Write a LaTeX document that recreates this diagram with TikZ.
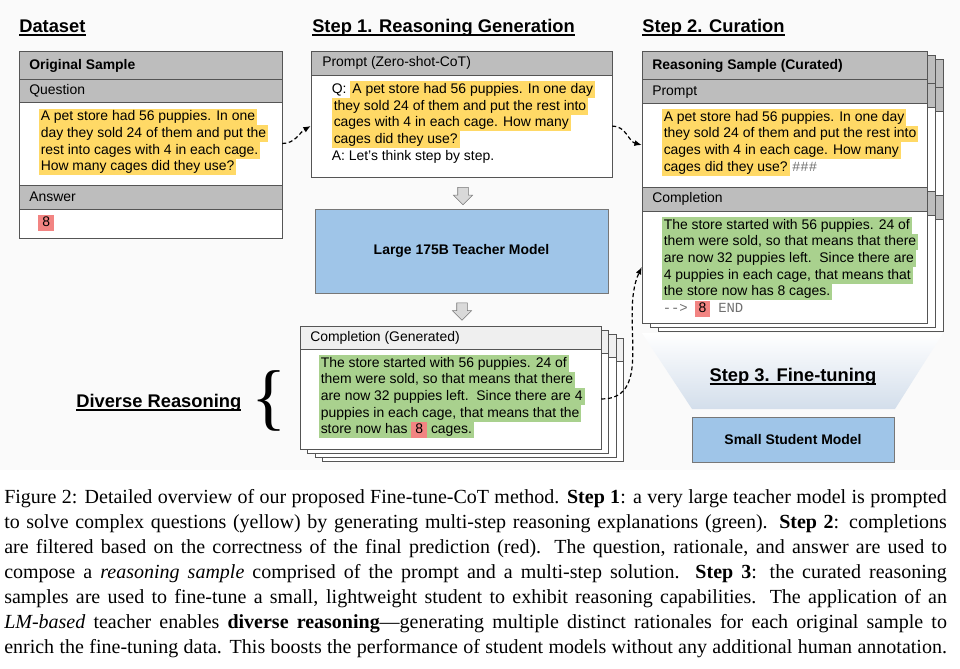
\documentclass[tikz,border=0pt]{standalone}
\usepackage{fontspec}
\setmainfont{Liberation Serif}
\setsansfont{Liberation Sans}
\setmonofont{Liberation Mono}
\usetikzlibrary{arrows.meta,shapes.arrows,fit}
\definecolor{qyel}{HTML}{FFD966}
\definecolor{rgreen}{HTML}{A9D18E}
\definecolor{ared}{HTML}{F28482}
\definecolor{hdrgray}{HTML}{BDBDBD}
\definecolor{hdrlight}{HTML}{EFEFEF}
\definecolor{edge}{HTML}{555555}
\definecolor{mblue}{HTML}{9FC5E8}
\definecolor{fadeblue}{HTML}{D3DEEB}
\definecolor{monogray}{HTML}{707070}
\newcommand{\hly}[1]{{\setlength{\fboxsep}{0pt}\colorbox{qyel}{\rule[-3.4pt]{0pt}{12.5pt}\hspace{1.5pt}#1\hspace{1.5pt}}}}
\newcommand{\hlg}[1]{{\setlength{\fboxsep}{0pt}\colorbox{rgreen}{\rule[-3.4pt]{0pt}{12.5pt}\hspace{1.5pt}#1\hspace{1.5pt}}}}
\newcommand{\hlr}[1]{{\setlength{\fboxsep}{0pt}\colorbox{ared}{\rule[-3pt]{0pt}{11.8pt}\hspace{3pt}#1\hspace{3pt}}}}
\newcommand{\mono}[1]{\texttt{\color{monogray}#1}}
\newcommand{\ulin}[1]{\setbox0\hbox{#1}\rlap{\rule[-2.2pt]{\wd0}{1pt}}\box0}

\begin{document}
\begin{tikzpicture}[x=0.75pt,y=-0.75pt,
    every node/.style={font=\sffamily\fontsize{10.45}{12.5}\selectfont},
    frame/.style={draw=edge,line width=0.75pt},
    band/.style={frame,fill=hdrgray},
    heading/.style={anchor=west,inner sep=0,font=\sffamily\bfseries\fontsize{13.75}{16}\selectfont},
    hdtext/.style={anchor=west,inner sep=0},
    txt/.style={anchor=north west,inner sep=0,align=left},
    hole/.style={inner sep=0},
    flow/.style={-{Latex[length=5.5pt,width=4.5pt]},line width=0.9pt,dash pattern=on 3pt off 2pt},
    downarr/.style={single arrow,shape border rotate=270,draw=edge!80,fill=black!15,minimum height=13pt,
        minimum width=14pt,inner sep=3.75pt,single arrow head extend=3.25pt},
    model/.style={draw=edge!80,fill=mblue,font=\sffamily\bfseries\fontsize{10.45}{12.5}\selectfont}]
    \useasboundingbox (0,0) rectangle (960,668);
    \fill[black!2] (0,0) rectangle (960,470);
    \node[heading] (hdata) at (19,28) {\ulin{Dataset}};
    \node[heading] (hstep1) at (312,28) {\ulin{Step 1. Reasoning Generation}};
    \node[heading] (hstep2) at (642,28) {\ulin{Step 2. Curation}};
    \draw[frame,fill=white] (19,51) rectangle (282,238);
    \draw[band] (19,51) rectangle (282,79);
    \draw[band] (19,79) rectangle (282,102);
    \draw[band] (19,185) rectangle (282,209);
    \node[hdtext,font=\sffamily\bfseries\fontsize{10.45}{12.5}\selectfont] (origtitle) at (29,66) {Original Sample};
    \node[hdtext] (qtitle) at (29,90.5) {Question};
    \node[hdtext] (atitle) at (29,197) {Answer};
    \node[hole,fit={(19,102)(282,185)}] (oqbody) {};
    \node[txt] (oqtext) at (38.5,108.3) {\hly{A pet store had 56 puppies. In one}\\
        \hly{day they sold 24 of them and put the}\\
        \hly{rest into cages with 4 in each cage.}\\
        \hly{How many cages did they use?}};
    \node[hdtext] (oatext) at (38,223) {\hlr{8}};
    \draw[frame,fill=white] (311,51) rectangle (612,177);
    \draw[band] (311,51) rectangle (612,75);
    \node[hdtext] (zptitle) at (322,63) {Prompt (Zero-shot-CoT)};
    \node[hole,fit={(311,75)(612,177)}] (zpbody) {};
    \node[txt] (zptext) at (331.5,81.2) {Q: \hly{A pet store had 56 puppies. In one day}\\
        \hly{they sold 24 of them and put the rest into}\\
        \hly{cages with 4 in each cage. How many}\\
        \hly{cages did they use?}\\
        A: Let’s think step by step.};
    \node[downarr] (dn1) at (463,193.5) {};
    \node[model,minimum width=219.75pt,minimum height=63pt] (teacher) at (461.5,251) {Large 175B Teacher Model};
    \node[downarr] (dn2) at (462,309) {};
    \foreach \k in {3,2,1,0}{
        \begin{scope}[shift={(7.5*\k,4*\k)}]
            \draw[frame,fill=white] (300,326) rectangle (601,449);
            \draw[frame,fill=hdrlight] (300,326) rectangle (601,349);
        \end{scope}
    }
    \node[hdtext] (gctitle) at (310,338) {Completion (Generated)};
    \node[hole,fit={(300,349)(601,449)}] (gcbody) {};
    \node[txt] (gctext) at (318.5,354.7) {\hlg{The store started with 56 puppies. 24 of}\\
        \hlg{them were sold, so that means that there}\\
        \hlg{are now 32 puppies left.\ \ Since there are 4}\\
        \hlg{puppies in each cage, that means that the}\\
        \hlg{store now has \hlr{8} cages.}};
    \node[heading] (hdiv) at (76,403) {\ulin{Diverse Reasoning}};
    \node[inner sep=0,font=\rmfamily\fontsize{55}{55}\selectfont] (brace) at (269,401) {\{};
    \shade[top color=white,bottom color=fadeblue] (642,333) -- (943,333) -- (895,409) -- (692,409) -- cycle;
    \foreach \k in {2,1,0}{
        \begin{scope}[shift={(8*\k,4*\k)}]
            \draw[frame,fill=white] (642,51) rectangle (927,323);
            \draw[band] (642,51) rectangle (927,79);
            \draw[band] (642,79) rectangle (927,103);
            \draw[band] (642,187) rectangle (927,211);
        \end{scope}
    }
    \node[hdtext,font=\sffamily\bfseries\fontsize{10.45}{12.5}\selectfont] (cstitle) at (652,66) {Reasoning Sample (Curated)};
    \node[hdtext] (cptitle) at (652,92) {Prompt};
    \node[hdtext] (cctitle) at (652,199) {Completion};
    \node[hole,fit={(642,103)(927,187)}] (cpbody) {};
    \node[hole,fit={(642,211)(927,323)}] (ccbody) {};
    \node[txt] (cptext) at (661.5,108.7) {\hly{A pet store had 56 puppies. In one day}\\
        \hly{they sold 24 of them and put the rest into}\\
        \hly{cages with 4 in each cage. How many}\\
        \hly{cages did they use?}\,\mono{\#\#\#}};
    \node[txt] (cctext) at (661.5,216.7) {\hlg{The store started with 56 puppies. 24 of}\\
        \hlg{them were sold, so that means that there}\\
        \hlg{are now 32 puppies left.\ \ Since there are}\\
        \hlg{4 puppies in each cage, that means that}\\
        \hlg{the store now has 8 cages.}};
    \node[hdtext] (ccend) at (662.5,309) {\mono{-{}->}\hspace{5pt}\hlr{8}\hspace{6pt}\mono{END}};
    \node[heading,anchor=center] (hstep3) at (793,377) {\ulin{Step 3. Fine-tuning}};
    \node[model,minimum width=151.5pt,minimum height=33.75pt] (student) at (793,439.5) {Small Student Model};
    \draw[flow] (oqbody.east) to[out=0,in=210] (zpbody.west);
    \draw[flow] (zpbody.east) to[out=0,in=165] (cpbody.west);
    \draw[flow] (gcbody.east) to[out=0,in=245] (ccbody.west);
    \node[anchor=north west,inner sep=0,align=left,font=\rmfamily\fontsize{15}{18.75}\selectfont] (caption) at (4,489.5) {%
        \makebox[707pt][s]{Figure 2: Detailed overview of our proposed Fine-tune-CoT method. \textbf{Step 1}: a very large teacher model is prompted}\\
        \makebox[707pt][s]{to solve complex questions (yellow) by generating multi-step reasoning explanations (green). \textbf{Step 2}: completions}\\
        \makebox[707pt][s]{are filtered based on the correctness of the final prediction (red). The question, rationale, and answer are used to}\\
        \makebox[707pt][s]{compose a \textit{reasoning sample} comprised of the prompt and a multi-step solution. \textbf{Step 3}: the curated reasoning}\\
        \makebox[707pt][s]{samples are used to fine-tune a small, lightweight student to exhibit reasoning capabilities. The application of an}\\
        \makebox[707pt][s]{\textit{LM-based} teacher enables \textbf{diverse reasoning}—generating multiple distinct rationales for each original sample to}\\
        \makebox[707pt][s]{enrich the fine-tuning data. This boosts the performance of student models without any additional human annotation.}};
\end{tikzpicture}
\end{document}
